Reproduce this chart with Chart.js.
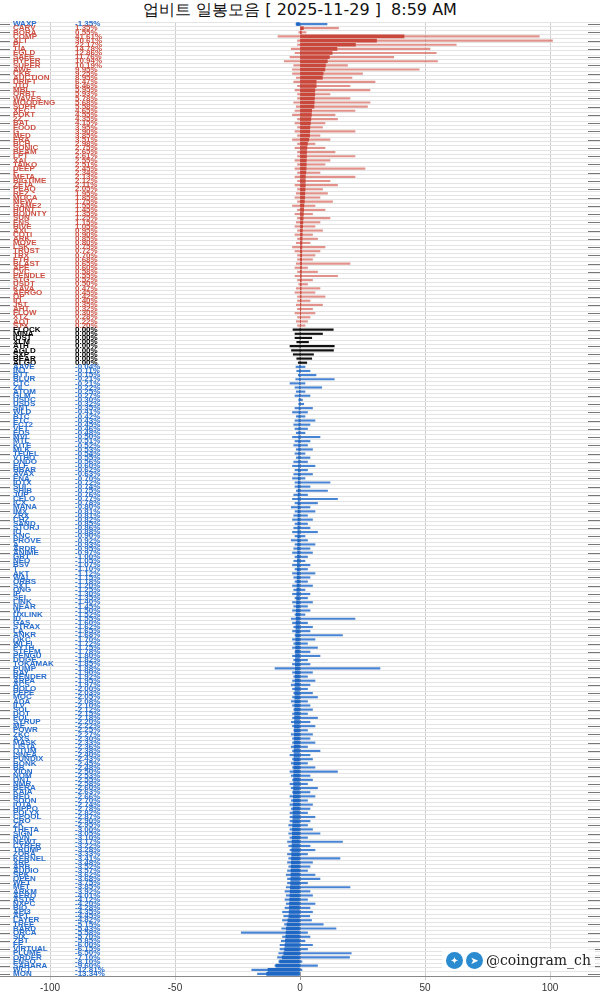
<!DOCTYPE html>
<html><head><meta charset="utf-8">
<script src="https://cdn.jsdelivr.net/npm/chart.js@4"></script>
<style>
html,body{margin:0;padding:0;background:#fff;width:600px;height:1000px;overflow:hidden;font-family:"Liberation Sans",Arial,sans-serif}
#title{position:absolute;top:0;left:0;width:600px;text-align:center;font-size:16px;line-height:20px;color:#111;font-family:"DejaVu Sans",sans-serif}
#wrap{position:absolute;top:20px;left:0;width:600px;height:980px}
#wm{position:absolute;left:442px;top:949px;height:22px;display:flex;align-items:center;font-family:"DejaVu Serif",serif;font-size:14px;color:#222;background:rgba(255,255,255,0.85);padding:0 4px}
.ic{width:17px;height:17px;border-radius:50%;background:#2a8bd0;margin-right:3px;color:#fff;font-size:10px;text-align:center;line-height:17px;font-family:"DejaVu Sans"}
</style></head><body>
<div id="title">업비트 일봉모음 [ 2025-11-29 ]&nbsp; 8:59 AM</div>
<div id="wrap"><canvas id="c" width="600" height="980"></canvas></div>
<div id="wm"><div class="ic">✦</div><div class="ic">➤</div>@coingram_ch</div>
<script>
const names = ["WAXP","CARV","BORA",
"COMP","ALT","PI","TIA","EGLD","SAFE","HYPER","SUPER","AWE","CKB","AUCTION","DRIFT","JTO","MBL","ORBT","WAVES","MOODENG","SOPH","XEC","POKT","2Z","BAT","FOOD","G","MED","ERA","BCH","SONIC","BEAM","LPT","XAI","TAIKO","DEEP","F","META","BIGTIME","ZETA","PEAQ","REZ","MOCA","MEW","GAME2","HUNT","BOUNTY","SUN","ENS","HIVE","AXL","COTI","ARK","MOVE","LSK","TRUST","TRX","ETH","BLAST","APE","CVC","PENDLE","STG","USDT","KAVA","AERGO","OP","IQ","JST","AHT","FLOW","XTZ","AQT","STX",
"FLOCK","MINA","IOST","XLM","ATH","AGLD","SXP","BEAR","ALGO",
"AAVE","INJ","BTT","BLUR","CTC","ZIL","ATOM","GLM","USDC","USDS","SNT","WLD","BTC","ETC","FCT2","VET","EOS","MVL","MTL","KITE","MLK","TFUEL","VTHO","ONDO","ELF","HBAR","AVAX","ENA","IOTX","SUI","SHIB","JUP","CELO","ICX","MANA","IMX","ZRX",
"CHZ","SAND","STORJ","IO","KNC","PROVE","A","ARDR","ANIME","GRT","NEO","BSV","T","AKT","WAL","ORBS","SXT","ONG","IP","SEI","LINK","NEAR","W","UXLINK","ID","GAS","STRAX","LA","ANKR","QKC","WLFI","PYTH","STEEM","PENGU","DOGE",
"TOKAMAK","PUMP","RAY","RENDER","ARPA","ACS","HOLO","PEPE","MOC","ADA","ILV","SOL","DOT","POL","SYRUP","ME","POWR","ZKC","AXS","MASK","LISTA","QTUM","LINEA","PUNDIX","BONK","BB","XION","NOM","ONT","NMR","BERA","KAIA","RED","SOON","IOTA","HIPPO","POLYX","CPOOL",
"CRO","ZK","THETA","SIGN","RVN","NEWT","CYBER","TRUMP","ZORA","KERNEL","XRP","ARB","AUDIO","SPK","OPEN","WET","MET","ARKM","AERO","ASTR","NXPC","BIO","API3","APT","LAYER","TREE","BARD","ORCA","SIX","ZBT","FF","VIRTUAL","PLUME","ORDER","ENSO","SAHARA","WCT","MON"];
const closes = [-1.35,1.35,0.55,
41.61,30.61,22.17,14.78,12.86,11.76,10.94,10.19,9.95,9.25,8.95,6.47,6.46,5.95,5.93,5.78,5.68,5.58,4.65,4.55,4.35,4.15,3.95,3.90,3.85,3.51,2.98,2.75,2.65,2.61,2.55,2.51,2.45,2.34,2.13,2.12,2.11,2.05,1.95,1.85,1.75,1.55,1.45,1.35,1.25,1.15,1.05,0.95,0.90,0.85,0.80,0.75,0.72,0.70,0.68,0.65,0.60,0.58,0.55,0.52,0.50,0.47,0.45,0.42,0.40,0.35,0.32,0.30,0.28,0.22,0.20,
0,0,0,0,0,0,0,0,0,
-0.04,-0.11,-0.15,-0.21,-0.21,-0.22,-0.25,-0.27,-0.30,-0.32,-0.35,-0.41,-0.42,-0.43,-0.45,-0.46,-0.48,-0.50,-0.51,-0.52,-0.53,-0.54,-0.55,-0.56,-0.60,-0.62,-0.63,-0.70,-0.72,-0.74,-0.75,-0.76,-0.77,-0.78,-0.80,-0.81,-0.81,
-0.82,-0.85,-0.86,-0.88,-0.90,-0.92,-0.93,-0.95,-0.97,-1.00,-1.05,-1.07,-1.10,-1.12,-1.15,-1.18,-1.20,-1.25,-1.30,-1.35,-1.40,-1.45,-1.50,-1.52,-1.55,-1.60,-1.62,-1.65,-1.68,-1.70,-1.72,-1.75,-1.78,-1.80,-1.82,
-1.85,-1.88,-1.90,-1.92,-1.95,-1.97,-2.00,-2.03,-2.05,-2.08,-2.10,-2.12,-2.15,-2.18,-2.20,-2.22,-2.25,-2.27,-2.30,-2.33,-2.36,-2.38,-2.40,-2.43,-2.45,-2.48,-2.50,-2.53,-2.55,-2.58,-2.60,-2.63,-2.66,-2.70,-2.74,-2.78,-2.82,-2.87,
-2.90,-2.95,-3.00,-3.05,-3.10,-3.17,-3.22,-3.28,-3.33,-3.41,-3.48,-3.52,-3.57,-3.62,-3.68,-3.75,-3.85,-3.92,-4.01,-4.12,-4.20,-4.28,-4.35,-4.45,-4.82,-5.15,-5.43,-5.58,-5.70,-5.85,-6.00,-6.15,-6.50,-7.10,-8.10,-9.60,-12.81,-13.34];
const lows = [-1.6,0,-0.5,
-8.8,-1,-1,-3.5,-2,-4,-6.3,-2.5,-3,-3,-1.5,-2.5,-1,-2,-1,-1,-2.5,-1.5,-2,-3,-1,-2,-1,-2,-1,-3,-1,-2,-1,-1,-2,-1,-2,-1,-2,-1,-2,-1,-1.5,-2,-1,-3,-1,-2,-1,-1.5,-2,-1,-2,-1,-1.5,-3,-2,-1,-1,-1.5,-2,-1,-2,-1,-0.5,-1.5,-2,-1,-1,-1.5,-1,-2,-1,-1.5,-1,
-2.8,-2,-2,-1.3,-4,-3.4,-2.7,-1.3,-0.7,
-1.6,-1.3,-0.7,-1.7,-4,-2,-1.5,-2,-0.5,-0.5,-2,-3,-1.5,-2,-2.5,-2,-1.5,-3,-2,-2.5,-1.5,-2,-1.5,-2.5,-3,-2,-2.5,-3,-2,-2,-1.5,-2.5,-3,-2,-3.5,-2,-2.5,
-3,-2,-2.5,-3,-2,-3.5,-2,-2.5,-3,-2,-2.5,-3,-2,-3,-2.5,-2,-3,-2.5,-3,-2,-3,-2.5,-3,-2,-3.5,-3,-2.5,-3,-2,-3,-2.5,-3,-2,-3,-2.5,
-3,-10,-3,-2.5,-3,-3.5,-3,-2.5,-3,-3.5,-3,-2.5,-3,-3,-3.5,-3,-2.5,-3.5,-3,-3,-3.5,-3,-4,-3,-3.5,-3,-4,-3.5,-3,-4,-3.5,-3,-4,-3.5,-4,-3.5,-4,-4,
-4,-4.5,-4,-4.5,-4,-5,-4.5,-4,-5,-4.5,-5,-4.5,-5,-5.5,-5,-5,-5.5,-6,-5.5,-6,-5.5,-6,-7,-6.5,-7,-6.2,-7.3,-23.5,-7,-7.5,-8,-8,-8.5,-9,-8.5,-10,-19.3,-17];
const highs = [10.8,15.4,2.4,
95.7,101,62.5,52,54.5,37.5,55,19,47.7,25,20.8,30,20,28,12,20,28,27,22,14,15,10,9,22,8,12,6,10,14,22,12,10,26,8,22,12,15,9,11,8,13,6,10,5,12,8,6,9,5,7,4,10,8,6,5,20,3,7,15,5,3,8,6,10,4,9,5,6,4,3,2,
13.3,9,4.7,3.4,13.7,13.4,5.4,4.7,2.7,
2,4,6.4,13.7,2,8.7,2,4,1,1.5,5,3,2,6,4,3,2,8,4,3,5,2,4,3,6,3,5,2,12,4,11,3,15,7,4,6,3,
5,3,4,7,2,3,6,4,5,3,2,4,3,6,4,3,5,2,4,3,5,3,4,2,22,3,5,4,17,6,3,7,4,8,3,
4,32,5,3,6,4,3,5,7,3,4,5,3,7,4,6,3,5,4,6,3,8,4,5,3,6,15,4,5,3,7,4,6,3,5,4,3,
6,4,3,5,8,3,17,4,6,3,16,5,4,3,6,8,3,20,4,5,3,6,4,5,3.9,4.6,9.3,14.4,3,4,2,5,3,20.5,19.8,0.8,7,0.8];
const xTicks = [-100,-50,0,50,100];

const RED='#c9473b', RED_W='rgba(214,100,90,0.7)', BLUE='#1f67c4', BLUE_W='rgba(40,110,205,0.85)', BLK='#111';
const bodyCol = closes.map(v=>v>0?RED:(v<0?BLUE:BLK));
const wickCol = closes.map(v=>v>0?RED_W:(v<0?BLUE_W:BLK));
const txtCol = closes.map(v=>v>0?'#cc5245':(v<0?'#2a6fcc':'#000'));

const labelPlugin={id:'lbl',afterDatasetsDraw(ch){
  const c=ch.ctx,y=ch.scales.y;
  c.save();
  c.strokeStyle='#777';c.lineWidth=1;
  names.forEach((n,i)=>{const py=Math.round(y.getPixelForValue(i))+0.5;
    if(i%2===0){c.beginPath();c.moveTo(0,py);c.lineTo(10,py);c.moveTo(588,py);c.lineTo(600,py);c.stroke();}
  });
  c.font='bold 8px "Liberation Sans",Arial';c.textBaseline='middle';
  names.forEach((n,i)=>{const py=y.getPixelForValue(i);c.fillStyle=txtCol[i];
    c.textAlign='left';c.fillText(n,13,py);
    c.fillText(closes[i].toFixed(2)+'%',75,py);});
  c.restore();
}};
new Chart(document.getElementById('c'),{
  type:'bar',
  data:{labels:names,datasets:[
    {data:closes.map(v=>[0,v]),backgroundColor:bodyCol,barThickness:3,grouped:false,order:0},
    {data:names.map((n,i)=>[lows[i],highs[i]]),backgroundColor:wickCol,barThickness:1.5,grouped:false,order:1}
  ]},
  plugins:[labelPlugin],
  options:{indexAxis:'y',responsive:false,animation:false,
    layout:{padding:{left:0,right:0,top:2,bottom:4}},
    plugins:{legend:{display:false},tooltip:{enabled:false}},
    scales:{
      x:{min:-120,max:120,afterBuildTicks(s){s.ticks=xTicks.map(v=>({value:v}));},
        grid:{color:c=>c.tick&&c.tick.value===0?'#999':'#cfcfcf',drawTicks:true,tickLength:4},
        border:{color:'#888'},
        ticks:{color:'#333',font:{size:10,family:'"Liberation Sans",Arial'},padding:2}},
      y:{offset:true,ticks:{display:false},grid:{color:'#e4e4e4',drawTicks:false},border:{display:false}}
    }}
});
</script></body></html>
